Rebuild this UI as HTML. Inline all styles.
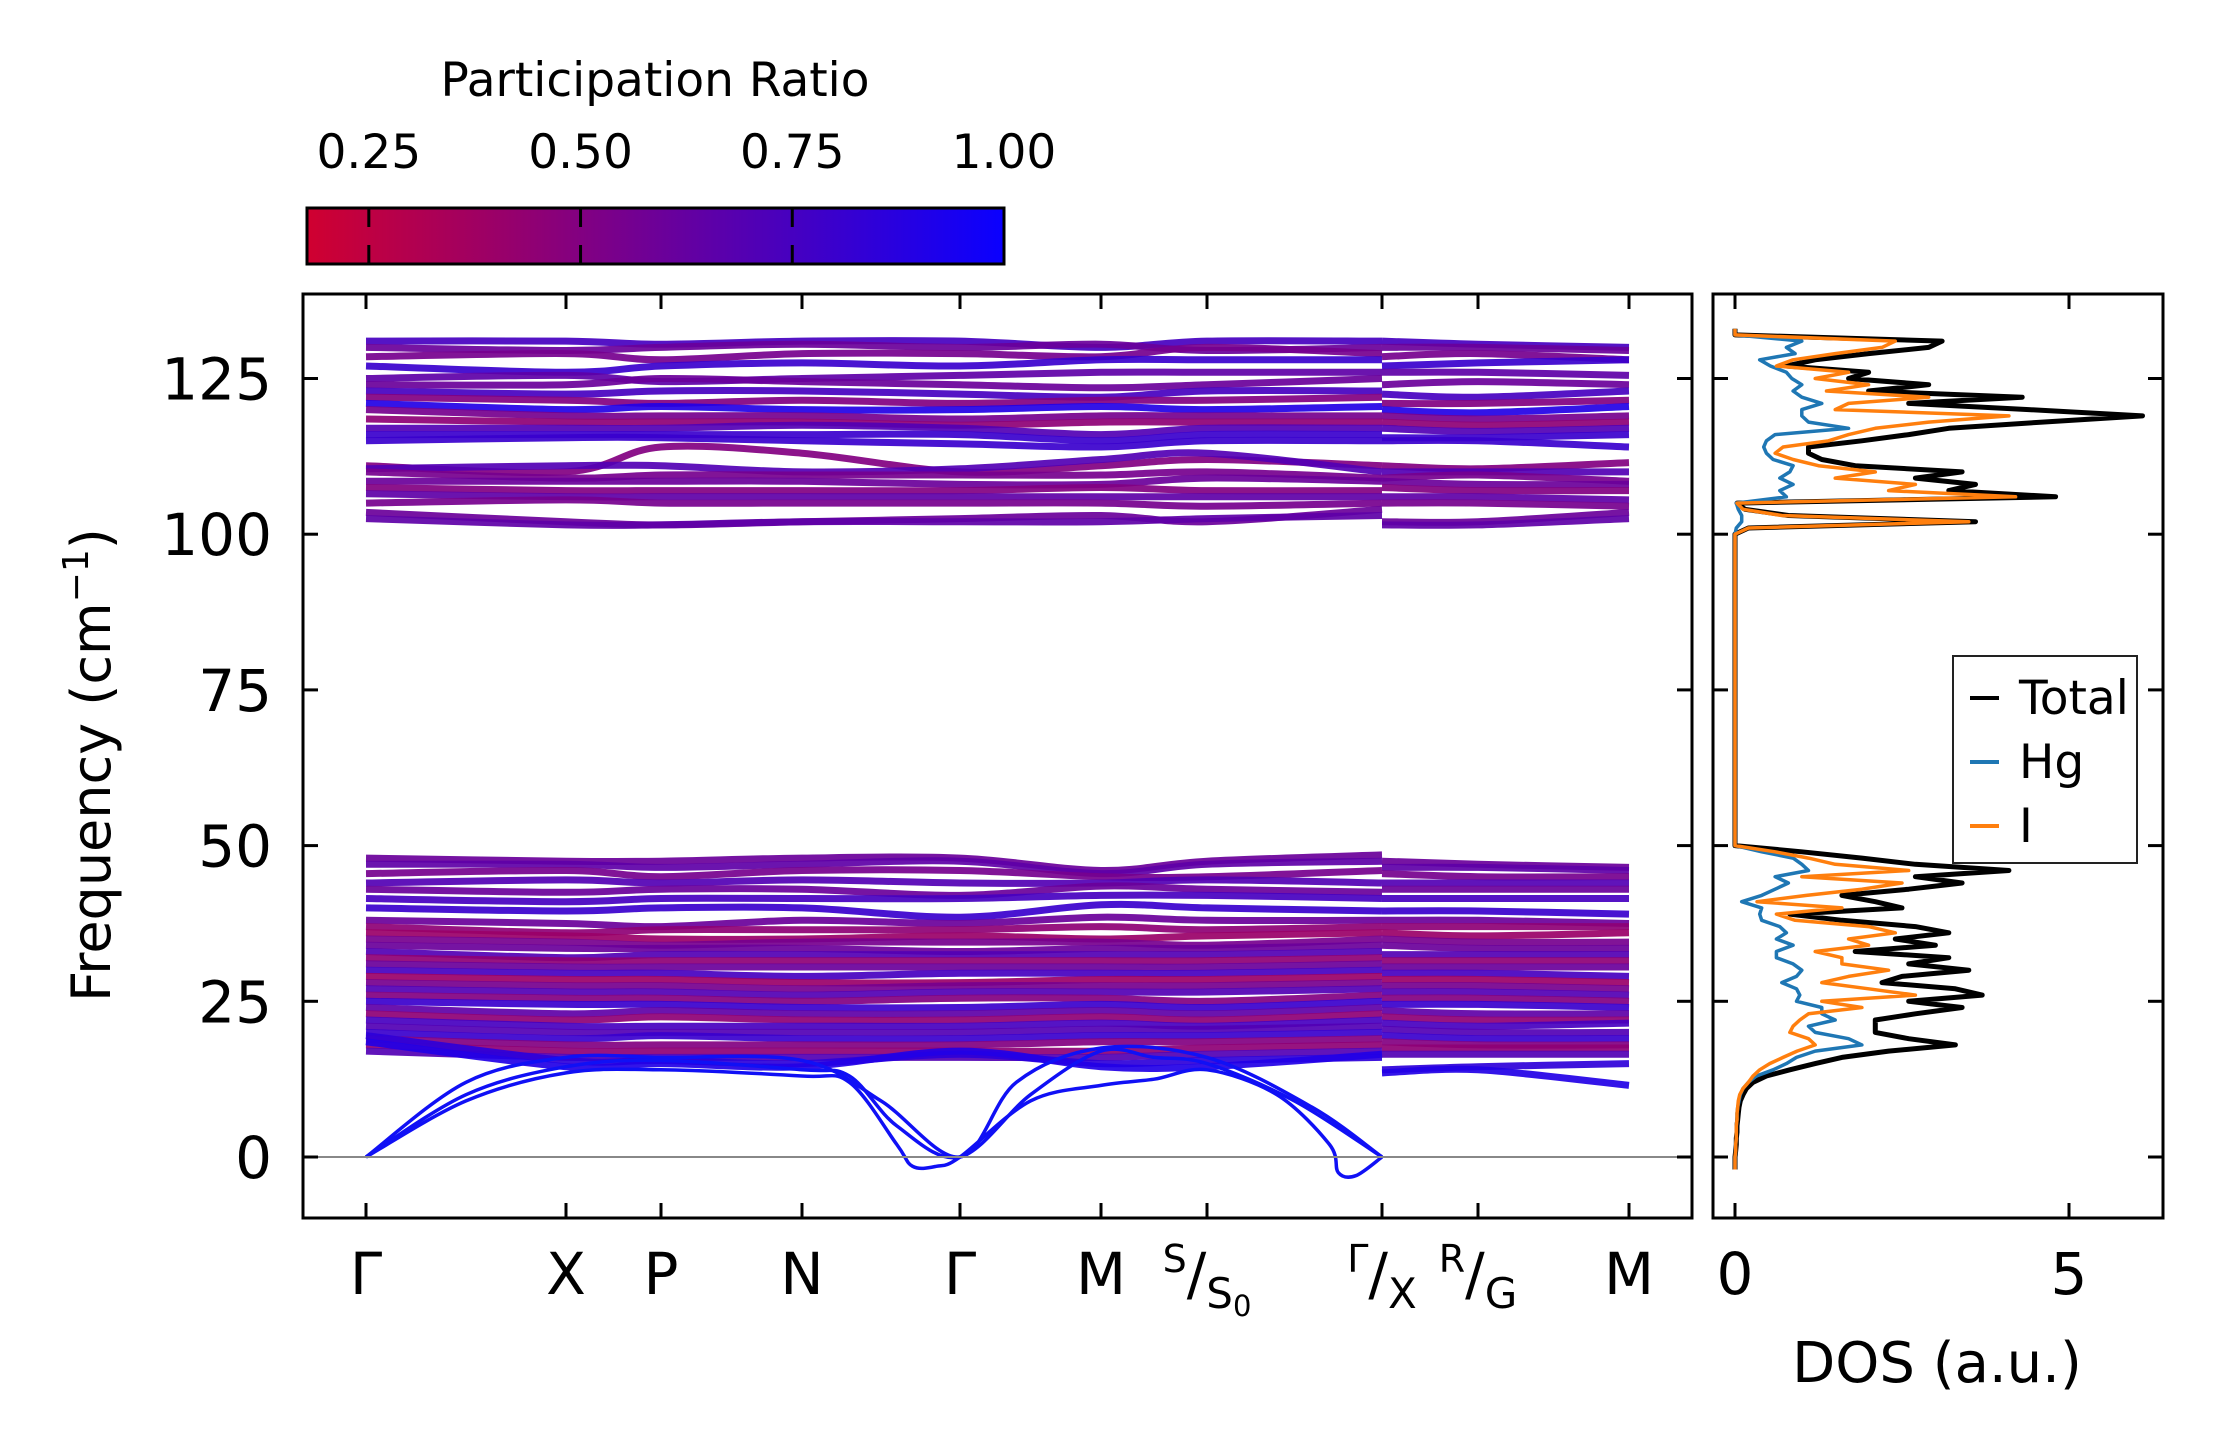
<!DOCTYPE html>
<html><head><meta charset="utf-8"><style>
html,body{margin:0;padding:0;background:#fff}
svg{display:block;font-family:"DejaVu Sans","Liberation Sans",sans-serif}
</style></head><body>
<svg id="chart" width="2222" height="1455" viewBox="0 0 2222 1455" xmlns="http://www.w3.org/2000/svg">
<defs>
<linearGradient id="cmap" x1="0" x2="1" y1="0" y2="0">
<stop offset="0" stop-color="rgb(208,0,48)"/><stop offset="1" stop-color="rgb(10,0,255)"/>
</linearGradient>
<clipPath id="clipMain"><rect x="303" y="294" width="1389" height="924"/></clipPath>
<clipPath id="clipDos"><rect x="1713" y="294" width="450" height="924"/></clipPath>
</defs>
<g>
<text x="655" y="96" font-size="47" text-anchor="middle">Participation Ratio</text>
<rect x="307" y="208" width="697" height="56" fill="url(#cmap)" stroke="#000" stroke-width="3"/>
<g id="cbTicks"></g>
</g>
<g id="bands" clip-path="url(#clipMain)"></g>
<line x1="303" x2="1692" y1="1157" y2="1157" stroke="#888" stroke-width="2"/>
<rect x="303" y="294" width="1389" height="924" fill="none" stroke="#000" stroke-width="3"/>
<g id="mainTicks"></g>
<text transform="translate(110,765) rotate(-90)" font-size="54" text-anchor="middle">Frequency (cm<tspan dy="-22" font-size="36">−1</tspan><tspan dy="22">)</tspan></text>
<g id="dos" clip-path="url(#clipDos)"></g>
<rect x="1713" y="294" width="450" height="924" fill="none" stroke="#000" stroke-width="3"/>
<g id="dosTicks"></g>
<text x="1937" y="1382" font-size="56" text-anchor="middle">DOS (a.u.)</text>
<g>
<rect x="1953" y="656" width="184" height="207" fill="#fff" stroke="#222" stroke-width="2"/>
<line x1="1970" x2="1999" y1="698" y2="698" stroke="#000" stroke-width="4"/>
<text x="2019" y="714" font-size="47">Total</text>
<line x1="1970" x2="1999" y1="762" y2="762" stroke="#1f77b4" stroke-width="4"/>
<text x="2019" y="778" font-size="47">Hg</text>
<line x1="1970" x2="1999" y1="826" y2="826" stroke="#ff7f0e" stroke-width="4"/>
<text x="2019" y="842" font-size="47">I</text>
</g>
</svg>
<script>
// ---- data ----
const yTicks = [0, 25, 50, 75, 100, 125];
const cbTicks = [0.25, 0.5, 0.75, 1.0];
const cbTickLabels = ["0.25", "0.50", "0.75", "1.00"];
const kLabels1 = ["Γ", "X", "P", "N", "Γ", "M", "S/S0", "Γ/X"];
const kLabels2 = ["R/G", "M"];
const dosTicks = [0, 5];
// band frequencies at k-points: Γ,X,P,N,Γ,M,S,Γ/X | X,R,M
const upperBands = [
[131,131,130.5,131,131,130,131,131, 131,130.5,130],
[130,129.5,130,130.5,130,130.5,129.5,130, 130,130,129.5],
[128.5,129,128,129,129,128.5,130,129, 128.5,129,128],
[127,126,127,127.5,127,128,128,128, 127,127.5,128],
[125,125.5,124.5,125,125.5,126,126,126, 126,126,125.5],
[124,124,125,124.5,124,123.5,124,125, 124,124.5,124],
[123,122.5,123,123,122.5,122,123,123, 122.5,122,123],
[122,121.5,121,121.5,121,121.5,121.5,122, 121,121,121.5],
[121,120,120.5,120,120,120.5,120,120.5, 120,119.5,120.5],
[120,119,119,119,118.5,119,119,119, 119,118.5,119],
[118.5,118,118,118,117.5,118,118,118, 118,117.5,118],
[117,117,117,117.5,117,116,117,117, 117,116.5,117],
[116,116,116,116,116,115,116,116, 115.5,115.5,116],
[115,115.5,115.5,115,114.5,114,115,115, 115,115,114],
[111,110,114,113,110,111,112,111, 111,110.5,111.5],
[110.5,111,111,110,110.5,112,113,110, 110,110,110],
[110,109,109.5,109.5,109.5,109.5,110,109, 109,109.5,108.5],
[108.5,108.5,108.5,108.5,108,108,109,108.5, 108.5,108,108],
[107.5,107,107,107,107,107.5,107,107, 107.5,107,107],
[106.5,106,106,106,106,106,106,106, 106,106,105.5],
[105,105.5,105,105,105,105,104.5,105, 105,105,104.5],
[103.5,102,101.5,102,102.5,103,102,104, 102,102,103.5],
[102.5,101.5,101.5,102,102,102,102.5,103, 101.5,101.5,102.5]
];
const upperPR = [0.75,0.6,0.55,0.8,0.65,0.6,0.75,0.5,0.9,0.55,0.45,0.7,0.8,0.8,0.5,0.7,0.55,0.6,0.5,0.65,0.55,0.6,0.65];
const lowerBands = [
[48,47.5,47.5,48,48,46,47.5,48.5, 47.5,47,46.5],
[47,47,46.5,47,47.5,45.5,47,47.5, 46.5,46.5,46],
[45.5,46,45,46,46,45,45,46, 45.5,45,45],
[44,44.5,44,44.5,44,44,44.5,44, 44,44,44],
[43,42.5,43,43,42,43.5,43,42.5, 43,43,43],
[41.5,41,41.5,41.5,41.5,42,42,41.5, 41.5,41.5,41.5],
[40,39.5,40,40,38.5,40.5,40,39.5, 39.5,39.5,39],
[38,37.5,37,38,37.5,38.5,38,38, 38,38,37.5],
[37,36,36.5,36.5,36.5,37,36.5,37, 37,37,37],
[36,35.5,35,35,35.5,35,35.5,36, 36,35.5,36],
[35,34.5,34,34.5,34.5,34.5,34,35, 35,34.5,34.5],
[34,33.5,33.5,33.5,33,33.5,33.5,34, 34,33.5,33.5],
[33,32,32.5,32.5,32.5,32.5,32.5,33, 32.5,32.5,32.5],
[32,31.5,31.5,31.5,31.5,31.5,31.5,32, 31.5,31.5,31.5],
[31,30.5,30.5,30.5,30.5,30.5,30.5,31, 30.5,30.5,30.5],
[30,29.5,29.5,29,29.5,29.5,29.5,30, 29.5,29.5,29],
[29,28.5,28.5,28,28,28.5,28.5,29, 28.5,28.5,28],
[28,27.5,27.5,27,27.5,27.5,27.5,28, 27.5,27.5,27],
[27,26.5,26.5,26,26.5,26.5,26.5,27, 26.5,26.5,26],
[26,25.5,25.5,25,25.5,25.5,25,26, 25.5,25.5,25],
[25,24.5,24.5,24,24,24.5,24,25, 24.5,24.5,24],
[24,23,23.5,23,23,23.5,23,24, 23.5,23,23],
[23,22,22.5,22,22,22.5,22,23, 22.5,22,22],
[22,21,21,21,21,21.5,21,22, 21.5,21,21.5],
[21,20,20,20,20,20.5,20.5,21, 20.5,20,20],
[20,19,19.5,19,19,19.5,19.5,20, 19.5,19,19],
[19,18,18,18,18,18.5,18.5,19, 18.5,18,18],
[18,17,17,17,17,17,17.5,18, 17.5,17.5,17.5],
[17,16,16,16,16,16,16.5,17, 16.5,16.5,16.5],
[19.5,15.5,15.5,15,16.5,15,15.5,16, 14,14.5,15],
[18.5,14.5,15,14.5,17,14.5,14.5,16.5, 13.5,14,11.5]
];
const lowerPR = [0.6,0.65,0.55,0.7,0.6,0.75,0.8,0.6,0.45,0.4,0.55,0.6,0.7,0.45,0.6,0.75,0.4,0.55,0.7,0.5,0.8,0.65,0.45,0.75,0.7,0.8,0.5,0.45,0.7,0.85,0.9];
// acoustic branches: k-index (path coordinate) and frequency
const acK1 = [0,0.5,1,2,3,3.3,3.6,3.7,3.85,4,4.5,5,5.5,6,6.4,6.7,6.75,6.85,7];
const acF1 = [0,9,13.5,14,13,12,2,-1.5,-1.5,0,9,11.5,12.5,14,10,2,-2.5,-3,0];
const acK2 = [0,0.5,1,2,3,3.3,3.6,4,4.5,5,5.5,6,6.5,7];
const acF2 = [0,10,14.5,15.5,14,13,5,0,10,17,16,15,9,0];
const acK3 = [0,0.5,1,2,3,3.5,4,4.4,5,6,6.6,7];
const acF3 = [0,12,16,16,15.5,9,0,12,17.5,16,8,0];
// DOS (freq grid -2..133 step 1)
const dosTotal = [0,0,0,0.01,0.02,0.02,0.03,0.03,0.04,0.05,0.06,0.08,0.12,0.17,0.27,0.47,0.82,1.2,1.6,2.3,3.3,2.6,2.1,2.1,2.1,2.7,3.4,2.6,3.7,3.3,2.2,2.5,3.5,2.6,3.2,1.8,3.0,2.4,3.2,2.7,1.6,0.82,2.5,2.1,1.6,2.6,3.4,2.7,4.1,2.7,1.9,1.0].concat(new Array(50).fill(0),[0,0.2,3.6,0.8,0.15,0.03,4.8,3.2,3.6,2.7,3.4,1.8,1.3,1.1,1.1,1.9,2.6,3.2,4.6,6.1,4.4,2.6,4.3,2.0,2.9,1.7,2.0,0.77,1.2,2.0,2.9,3.1,0,0]);
const dosI = [0,0,0,0.01,0.01,0.02,0.02,0.02,0.03,0.03,0.04,0.05,0.07,0.12,0.2,0.27,0.37,0.52,0.72,0.93,1.2,1.1,0.82,0.87,0.97,1.1,1.9,1.3,2.7,2.0,1.3,1.7,2.3,1.6,1.6,1.2,2.0,1.7,2.4,2.0,0.9,0.62,1.6,0.33,1.07,1.9,2.5,1.0,2.6,1.5,1.1,0.6].concat(new Array(50).fill(0),[0,0.2,3.5,0.7,0.12,0.03,4.2,2.3,2.7,1.5,2.1,1.25,0.87,0.6,0.72,1.4,1.7,2.1,2.9,4.1,1.5,1.7,2.9,1.37,2.0,1.2,1.7,0.62,0.87,1.5,2.2,2.4,0,0]);
const dosHg = [0,0,0,0.01,0.01,0.02,0.02,0.02,0.03,0.03,0.04,0.06,0.08,0.12,0.2,0.32,0.57,0.77,0.92,1.2,1.9,1.7,1.2,1.1,1.5,1.3,1.3,0.92,0.97,0.92,0.7,0.92,1.0,0.87,0.62,0.62,0.87,0.62,0.77,0.67,0.4,0.37,0.4,0.1,0.4,0.6,0.8,0.6,1.1,1.0,0.87,0.4].concat(new Array(50).fill(0),[0,0.02,0.1,0.1,0.05,0.02,0.77,0.67,0.87,0.67,0.82,0.87,0.57,0.47,0.43,0.47,0.6,1.7,1.1,1.0,1.0,1.3,1.0,0.87,1.0,0.85,0.77,0.53,0.37,0.9,0.77,1.0,0,0]);
const dosFreqStart = -2;

// ---- scales ----
const NS = "http://www.w3.org/2000/svg";
const kx1 = [366,566,661,802,960,1101,1207,1382];
const kx2 = [1382,1478,1629];
const yS = f => 1157 - 6.228 * f;
const dosX = d => 1735 + 66.8 * d;
const cbX = p => 307 + (p - 0.177) / 0.823 * 697;
function kToX(k){const i=Math.min(Math.floor(k),6);return kx1[i]+(k-i)*(kx1[i+1]-kx1[i]);}
function cmap(p){const t=Math.max(0,Math.min(1,(p-0.177)/0.823));return `rgb(${Math.round(208+(10-208)*t)},0,${Math.round(48+(255-48)*t)})`;}
function el(tag,attrs,parent){const e=document.createElementNS(NS,tag);for(const a in attrs)e.setAttribute(a,attrs[a]);parent.appendChild(e);return e;}
function smoothPath(pts){
  let d=`M${pts[0][0].toFixed(1)},${pts[0][1].toFixed(1)}`;
  for(let i=0;i<pts.length-1;i++){
    const p0=pts[Math.max(0,i-1)],p1=pts[i],p2=pts[i+1],p3=pts[Math.min(pts.length-1,i+2)];
    const c1=[p1[0]+(p2[0]-p0[0])/6,p1[1]+(p2[1]-p0[1])/6];
    const c2=[p2[0]-(p3[0]-p1[0])/6,p2[1]-(p3[1]-p1[1])/6];
    d+=` C${c1[0].toFixed(1)},${c1[1].toFixed(1)} ${c2[0].toFixed(1)},${c2[1].toFixed(1)} ${p2[0].toFixed(1)},${p2[1].toFixed(1)}`;
  }
  return d;
}
const bandsG=document.getElementById('bands');
function drawBand(vals,pr,idx,group){
  const p1=kx1.map((x,i)=>[x,yS(vals[i])]);
  const p2=kx2.map((x,i)=>[x,yS(vals[8+i])]);
  [p1,p2].forEach((pts,s)=>{
    const path=el('path',{d:smoothPath(pts),fill:'none',stroke:cmap(pr),'stroke-width':7,'stroke-opacity':0.92},bandsG);
    
    
  });
}
upperBands.forEach((b,i)=>drawBand(b,upperPR[i],i,'upper'));
lowerBands.forEach((b,i)=>drawBand(b,lowerPR[i],i,'lower'));
[[acK1,acF1],[acK2,acF2],[acK3,acF3]].forEach(([ks,fs],i)=>{
  const pts=ks.map((k,j)=>[kToX(k),yS(fs[j])]);
  const path=el('path',{d:smoothPath(pts),fill:'none',stroke:'#1010f5','stroke-width':3.5},bandsG);
  
  
});

// main ticks
const mt=document.getElementById('mainTicks');
yTicks.forEach(v=>{
  const y=yS(v);
  const t1=el('line',{x1:303,x2:318,y1:y,y2:y,stroke:'#000','stroke-width':3},mt);
  
  
  const t2=el('line',{x1:1677,x2:1692,y1:y,y2:y,stroke:'#000','stroke-width':3},mt);
  
  
  const tx=el('text',{x:272,y:y+21,'font-size':58,'text-anchor':'end'},mt);
  tx.textContent=String(v);
  
  
});
const allKx=kx1.concat(kx2.slice(1));
const allLabels=kLabels1.concat(kLabels2);
allKx.forEach((x,i)=>{
  const a=el('line',{x1:x,x2:x,y1:1218,y2:1203,stroke:'#000','stroke-width':3},mt);
  
  
  const b=el('line',{x1:x,x2:x,y1:294,y2:309,stroke:'#000','stroke-width':3},mt);
  
  
  const lab=allLabels[i];
  const t=el('text',{x:x,y:1294,'font-size':58,'text-anchor':'middle'},mt);
  
  
  if(lab.indexOf('/')>=0){
    const parts=lab.split('/');
    let sub=parts[1], subSub='';
    if(sub==='S0'){sub='S';subSub='0';}
    const s1=el('tspan',{'font-size':38,dy:-22},t);s1.textContent=parts[0];
    const s2=el('tspan',{'font-size':58,dy:22},t);s2.textContent='/';
    const s3=el('tspan',{'font-size':42,dy:14},t);s3.textContent=sub;
    if(subSub){const s4=el('tspan',{'font-size':29,dy:8},t);s4.textContent=subSub;}
  } else t.textContent=lab;
});

// colorbar ticks
const cbt=document.getElementById('cbTicks');
cbTicks.forEach((p,i)=>{
  const x=cbX(p);
  if(p<0.99){
    const a=el('line',{x1:x,x2:x,y1:208,y2:227,stroke:'#000','stroke-width':3},cbt);
    
    
    const b=el('line',{x1:x,x2:x,y1:245,y2:264,stroke:'#000','stroke-width':3},cbt);
    
    
  }
  const t=el('text',{x:x,y:168,'font-size':47,'text-anchor':'middle'},cbt);
  t.textContent=cbTickLabels[i];
  
  
});

// DOS
const dosG=document.getElementById('dos');
function dosLine(arr,color,w,name){
  const pts=arr.map((d,i)=>`${dosX(d).toFixed(1)},${yS(dosFreqStart+i).toFixed(1)}`).join(' ');
  const pl=el('polyline',{points:pts,fill:'none',stroke:color,'stroke-width':w,'stroke-linejoin':'round'},dosG);
  
  
}
dosLine(dosTotal,'#000',5,'dos-total-line');
dosLine(dosHg,'#1f77b4',3.5,'dos-hg-line');
dosLine(dosI,'#ff7f0e',3.5,'dos-i-line');
const dt=document.getElementById('dosTicks');
yTicks.forEach(v=>{
  const y=yS(v);
  const a=el('line',{x1:1713,x2:1728,y1:y,y2:y,stroke:'#000','stroke-width':3},dt);
  
  
  const b=el('line',{x1:2148,x2:2163,y1:y,y2:y,stroke:'#000','stroke-width':3},dt);
  
  
});
dosTicks.forEach(v=>{
  const x=dosX(v);
  const a=el('line',{x1:x,x2:x,y1:1218,y2:1203,stroke:'#000','stroke-width':3},dt);
  
  
  const b=el('line',{x1:x,x2:x,y1:294,y2:309,stroke:'#000','stroke-width':3},dt);
  
  
  const t=el('text',{x:x,y:1294,'font-size':58,'text-anchor':'middle'},dt);
  t.textContent=String(v);
  
  
});
</script>
</body></html>
